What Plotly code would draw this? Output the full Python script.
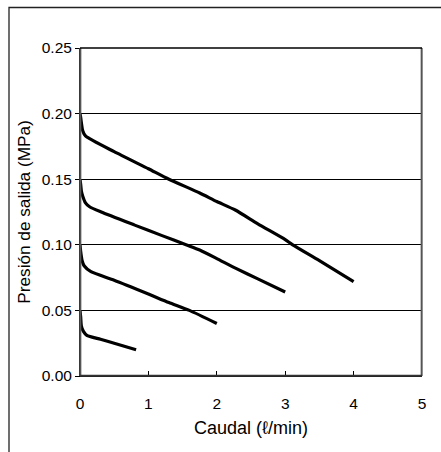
import plotly.graph_objects as go

# Caudal (l/min) and Presión de salida (MPa) for each set pressure curve
q_020 = [0.0, 0.01, 0.02, 0.04, 0.08, 0.5, 1.0, 1.3, 1.75, 2.0, 2.27, 2.6, 3.0, 3.11, 3.5, 4.0]
p_020 = [0.200, 0.197, 0.193, 0.187, 0.183, 0.171, 0.158, 0.150, 0.1395, 0.133, 0.1265, 0.116, 0.104, 0.100, 0.088, 0.072]

q_015 = [0.0, 0.01, 0.02, 0.04, 0.08, 0.14, 0.31, 0.8, 1.2, 1.55, 1.75, 2.0, 2.28, 2.6, 3.0]
p_015 = [0.150, 0.146, 0.141, 0.137, 0.132, 0.129, 0.125, 0.115, 0.107, 0.100, 0.096, 0.0895, 0.082, 0.074, 0.064]

q_010 = [0.0, 0.01, 0.02, 0.03, 0.06, 0.16, 0.5, 1.0, 1.3, 1.6, 2.0]
p_010 = [0.100, 0.095, 0.091, 0.088, 0.084, 0.0795, 0.073, 0.0625, 0.056, 0.050, 0.040]

q_005 = [0.0, 0.01, 0.02, 0.05, 0.1, 0.3, 0.5, 0.82]
p_005 = [0.050, 0.045, 0.038, 0.034, 0.031, 0.028, 0.025, 0.020]

x_ticks = [0, 1, 2, 3, 4, 5]
y_ticks = [0.00, 0.05, 0.10, 0.15, 0.20, 0.25]

FONT = "Liberation Sans, Arial, sans-serif"

fig = go.Figure()
for q, p in [(q_020, p_020), (q_015, p_015), (q_010, p_010), (q_005, p_005)]:
    fig.add_trace(go.Scatter(x=q, y=p, mode="lines",
                             line=dict(color="black", width=3.2, shape="spline", smoothing=0.6),
                             showlegend=False, hoverinfo="skip"))

L, R, T, B = 80, 422, 48, 376
W, H = 441, 452
pw, ph = R - L, B - T

def px2x(px):
    return (px - L) / pw

def py2y(py):
    return (B - py) / ph

# outer frame of the chart (extends beyond right and bottom of the image)
fig.add_shape(type="rect", xref="paper", yref="paper",
              x0=px2x(9), x1=px2x(470), y0=py2y(480), y1=py2y(7.5),
              line=dict(color="#222", width=1.3))
# plot area border
fig.add_shape(type="line", xref="paper", yref="paper", x0=0.001, x1=0.001, y0=0, y1=1,
              line=dict(color="#555555", width=2))
fig.add_shape(type="line", xref="paper", yref="paper", x0=0.999, x1=0.999, y0=0, y1=1,
              line=dict(color="#555555", width=2))
fig.add_shape(type="line", xref="paper", yref="paper", x0=0, x1=1, y0=0.001, y1=0.001,
              line=dict(color="#333333", width=2))
fig.add_shape(type="line", xref="paper", yref="paper", x0=0, x1=1, y0=1, y1=1,
              line=dict(color="black", width=1.3))

fig.update_layout(
    width=W, height=H,
    margin=dict(l=L, r=W - R, t=T, b=H - B),
    paper_bgcolor="white", plot_bgcolor="white",
    font=dict(family=FONT, color="black", size=15.5),
    xaxis=dict(range=[0, 5], tickvals=x_ticks, ticktext=[str(v) for v in x_ticks],
               showgrid=False, zeroline=False,
               showline=True, linecolor="black", linewidth=1,
               ticks="inside", ticklen=5, tickcolor="black", tickwidth=1.2,
               ticklabelstandoff=13,
               title=dict(text="Caudal (ℓ/min)", font=dict(size=18), standoff=10),
               tickfont=dict(size=15.5)),
    yaxis=dict(range=[0, 0.25], tickvals=y_ticks, ticktext=[f"{v:.2f}" for v in y_ticks],
               showgrid=True, gridcolor="black", gridwidth=1, zeroline=False,
               showline=True, linecolor="black", linewidth=1,
               ticks="outside", ticklen=4, tickcolor="black", tickwidth=1.2,
               title=dict(text="Presión de salida (MPa)", font=dict(size=17.2), standoff=6),
               tickfont=dict(size=15.5)),
)

fig.write_html("out.html")
